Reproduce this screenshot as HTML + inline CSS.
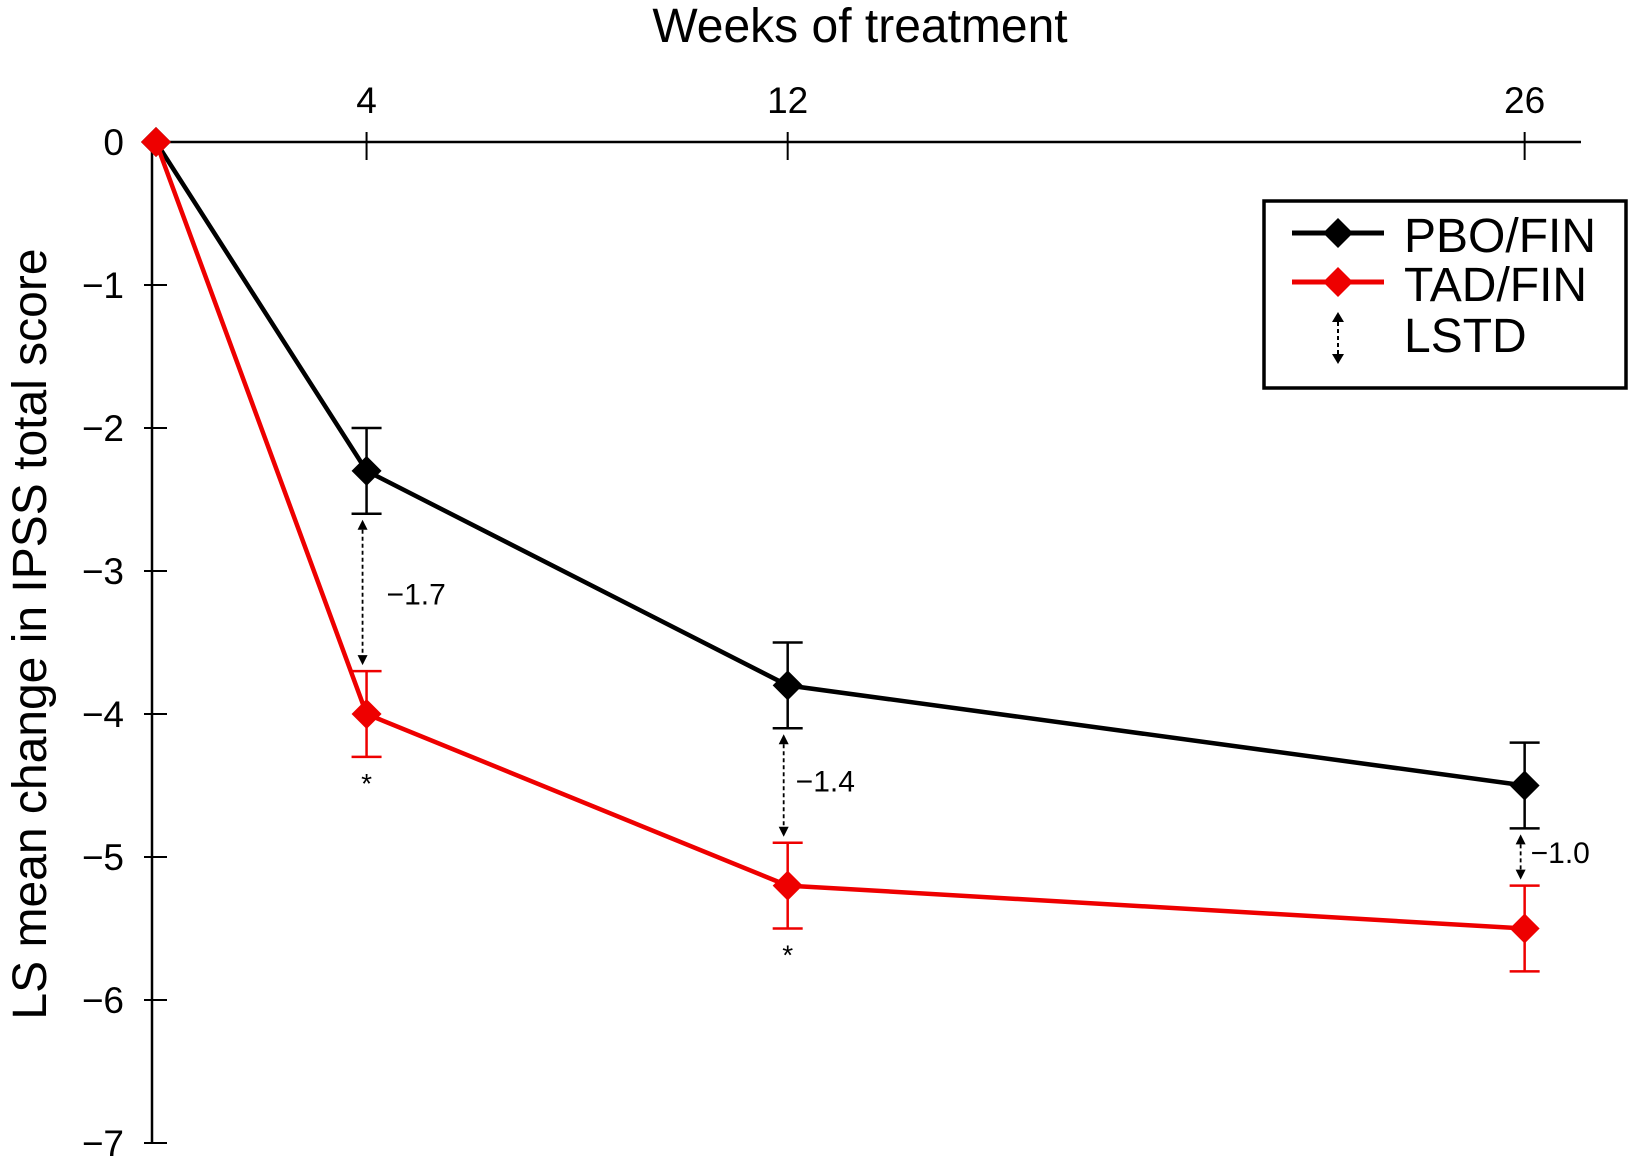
<!DOCTYPE html>
<html><head><meta charset="utf-8"><style>
html,body{margin:0;padding:0;background:#fff;}
svg{display:block;font-family:"Liberation Sans",Arial,sans-serif;}
</style></head><body>
<svg id="chart" width="1629" height="1165" viewBox="0 0 1629 1165" xmlns="http://www.w3.org/2000/svg">
<g id="axes"></g><g id="marks"></g>
<g>
<rect x="1264" y="201" width="362" height="187" fill="#fff" stroke="#000" stroke-width="3.5"/>
<line x1="1292" y1="233" x2="1384" y2="233" stroke="#000" stroke-width="5"/>
<polygon points="1338,218 1353,233 1338,248 1323,233" fill="#000"/>
<text x="1404" y="252" font-size="48">PBO/FIN</text>
<line x1="1292" y1="282" x2="1384" y2="282" stroke="#e00" stroke-width="5"/>
<polygon points="1338,267 1353,282 1338,297 1323,282" fill="#e00"/>
<text x="1404" y="301" font-size="48">TAD/FIN</text>
<line x1="1338" y1="322" x2="1338" y2="355" stroke="#000" stroke-width="2" stroke-dasharray="4,3"/>
<polygon points="1338,312 1344,322 1332,322" fill="#000"/>
<polygon points="1338,364 1344,354 1332,354" fill="#000"/>
<text x="1404" y="352" font-size="48">LSTD</text>
</g>
</svg>
<script>
const weeks=[0,4,12,26];
const pbo=[0,-2.3,-3.8,-4.5];
const tad=[0,-4.0,-5.2,-5.5];
const pboErr=[0,0.3,0.3,0.3];
const tadErr=[0,0.3,0.3,0.3];
const xTicks=[4,12,26];
const yTicks=[0,-1,-2,-3,-4,-5,-6,-7];
const lstdLabels=["\u22121.7","\u22121.4","\u22121.0"];
const stars=["*","*",""];
const NS="http://www.w3.org/2000/svg";
const X=w=>156+w*52.64;
const Y=v=>142-v*143;
const axes=document.getElementById('axes'),marks=document.getElementById('marks');
function mk(p,tag,a,txt){const e=document.createElementNS(NS,tag);for(const k in a)e.setAttribute(k,a[k]);if(txt!==undefined)e.textContent=txt;p.appendChild(e);return e;}
let e;
e=mk(axes,'line',{x1:152,y1:Y(0),x2:1581,y2:Y(0),stroke:'#000','stroke-width':2.5});


e=mk(axes,'line',{x1:152,y1:Y(0),x2:152,y2:Y(-7),stroke:'#000','stroke-width':2.5});


e=mk(axes,'text',{x:860,y:42,'font-size':48,'text-anchor':'middle'},'Weeks of treatment');


e=mk(axes,'text',{x:0,y:0,'font-size':48,'text-anchor':'middle',transform:'translate(46,634) rotate(-90)'},'LS mean change in IPSS total score');


xTicks.forEach(t=>{mk(axes,'line',{x1:X(t),y1:Y(0)-10,x2:X(t),y2:Y(0)+18,stroke:'#000','stroke-width':2});
e=mk(axes,'text',{x:X(t),y:113,'font-size':37,'text-anchor':'middle'},String(t));

});
yTicks.forEach(t=>{mk(axes,'line',{x1:144,y1:Y(t),x2:167,y2:Y(t),stroke:'#000','stroke-width':2});
e=mk(axes,'text',{x:124,y:Y(t)+13,'font-size':37,'text-anchor':'end'},t===0?'0':'\u2212'+Math.abs(t));

});
function series(vals,errs,col,name){
 e=mk(marks,'polyline',{points:weeks.map((w,i)=>X(w)+','+Y(vals[i])).join(' '),fill:'none',stroke:col,'stroke-width':4.5});
 
 
 weeks.forEach((w,i)=>{const x=X(w),y=Y(vals[i]);
  if(errs[i]>0){const y1=Y(vals[i]+errs[i]),y2=Y(vals[i]-errs[i]);
   mk(marks,'line',{x1:x,y1:y1,x2:x,y2:y2,stroke:col,'stroke-width':2.5});
   mk(marks,'line',{x1:x-15,y1:y1,x2:x+15,y2:y1,stroke:col,'stroke-width':2.5});
   mk(marks,'line',{x1:x-15,y1:y2,x2:x+15,y2:y2,stroke:col,'stroke-width':2.5});}
  e=mk(marks,'polygon',{points:`${x},${y-15} ${x+15},${y} ${x},${y+15} ${x-15},${y}`,fill:col});
  
  });
}
series(pbo,pboErr,'#000','pbo-fin');
series(tad,tadErr,'#e00','tad-fin');
[1,2,3].forEach((i,k)=>{const x=X(weeks[i])-4,y1=Y(pbo[i]-pboErr[i])+6,y2=Y(tad[i]+tadErr[i])-6;
 mk(marks,'line',{x1:x,y1:y1+10,x2:x,y2:y2-10,stroke:'#000','stroke-width':1.8,'stroke-dasharray':'4,3'});
 mk(marks,'polygon',{points:`${x},${y1} ${x+5},${y1+10} ${x-5},${y1+10}`,fill:'#000'});
 mk(marks,'polygon',{points:`${x},${y2} ${x+5},${y2-10} ${x-5},${y2-10}`,fill:'#000'});
 e=mk(marks,'text',{x:x+(k===2?10:k===1?12:24),y:(y1+y2)/2+(k===2?6:k===1?6:12),'font-size':30},lstdLabels[k]);
 
 
 if(stars[k]){e=mk(marks,'text',{x:X(weeks[i]),y:Y(tad[i]-tadErr[i])+36,'font-size':28,'text-anchor':'middle'},stars[k]);
 
 }
});
</script>
</body></html>
